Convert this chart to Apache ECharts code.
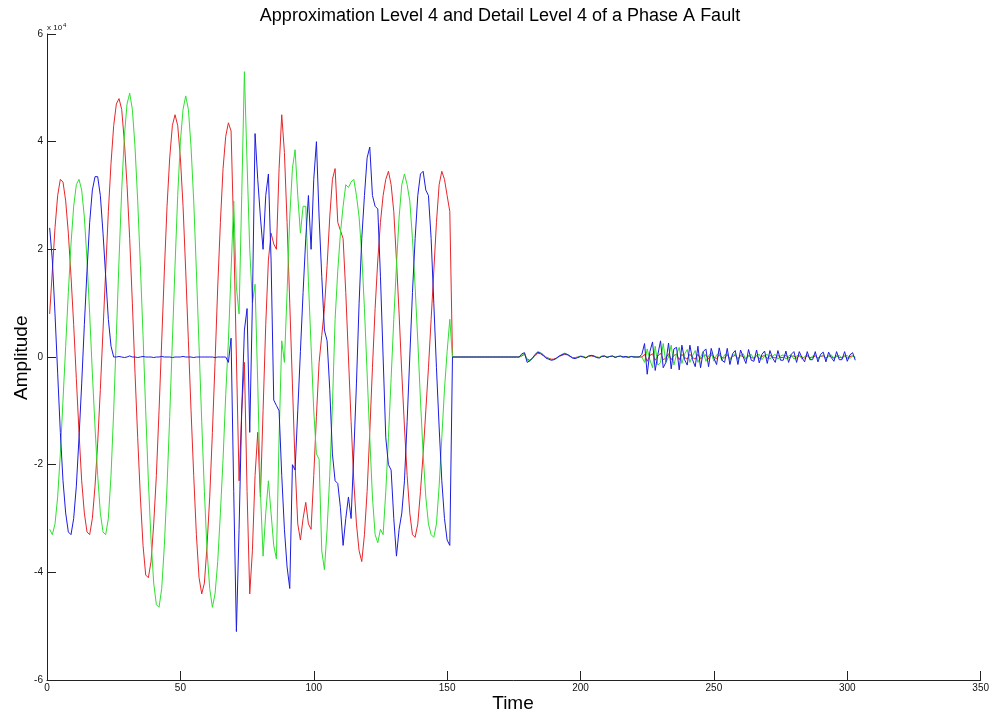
<!DOCTYPE html>
<html><head><meta charset="utf-8">
<script src="https://cdn.jsdelivr.net/npm/echarts@6/dist/echarts.min.js"></script>
<style>html,body{margin:0;padding:0;background:#fff}#c{width:992px;height:721px}</style>
</head><body><div id="c"></div>
<script>
// Amplitude values in units of 10^4, one sample per time step (time = 1..303)
const seriesNames = ['Phase A', 'Phase B', 'Phase C'];
const xTicks = [0, 50, 100, 150, 200, 250, 300, 350];
const yTicks = [-6, -4, -2, 0, 2, 4, 6];

const red = [
  0.8, 1.6, 2.4, 3.0, 3.3, 3.25, 2.9, 2.3, 1.5, 0.6,
  -0.4, -1.4, -2.3, -2.9, -3.25, -3.3, -3.0, -2.4, -1.6, -0.6,
  0.5, 1.6, 2.7, 3.6, 4.3, 4.7, 4.8, 4.6, 4.0, 3.2,
  2.2, 1.0, -0.3, -1.5, -2.6, -3.5, -4.05, -4.1, -3.8, -3.1,
  -2.2, -1.0, 0.3, 1.6, 2.8, 3.7, 4.3, 4.5, 4.3, 3.7,
  2.8, 1.6, 0.3, -1.0, -2.2, -3.3, -4.1, -4.4, -4.2, -3.5,
  -2.6, -1.4, -0.1, 1.3, 2.5, 3.5, 4.1, 4.35, 4.2, 2.3,
  0.0, -2.3, -1.0, -0.1, -2.5, -4.4, -3.6, -2.2, -1.4, -2.6,
  -1.0, 0.6, 1.8, 2.3, 2.1, 2.0, 3.5, 4.5, 3.8, 2.5,
  1.0, -0.5, -2.0, -3.1, -3.4, -3.0, -2.7, -3.1, -3.2, -2.2,
  -1.1, -0.1, 0.4, 0.9, 1.7, 2.6, 3.3, 3.5, 2.5, 2.35,
  2.2, 1.2, 0.0, -1.2, -2.3, -3.1, -3.6, -3.8, -3.3, -2.5,
  -1.4, -0.2, 0.9, 1.8, 2.5, 3.0, 3.3, 3.45, 3.2, 2.7,
  1.8, 0.8, -0.3, -1.3, -2.2, -2.9, -3.3, -3.35, -3.1, -2.5,
  -1.8, -1.0, -0.2, 0.7, 1.6, 2.5, 3.2, 3.45, 3.3, 3.0,
  2.7, 0.0, 0, 0, 0, 0, 0, 0, 0, 0,
  0, 0, 0, 0, 0, 0, 0, 0, 0, 0,
  0, 0, 0, 0, 0, 0, 0.0, 0.02, 0.05, -0.04,
  -0.06, -0.02, 0.03, 0.07, 0.06, 0.03, 0.0, -0.02, -0.04, -0.04,
  -0.02, 0.01, 0.03, 0.05, 0.04, 0.01, -0.01, -0.01, 0.0, 0.01,
  0.01, -0.01, 0.01, 0.02, 0.01, 0.0, -0.01, 0.01, 0.01, 0.0,
  0.01, 0.01, 0.0, 0.01, 0.01, 0.0, 0.0, 0.0, 0.01, 0.0,
  0.0, 0.0, 0.0, 0.05, -0.08, 0.03, 0.06, -0.06, 0.02, 0.07,
  -0.05, -0.02, 0.06, -0.05, 0.03, 0.05, -0.05, 0.05, -0.01, -0.04,
  0.05, -0.01, -0.04, 0.05, -0.04, 0.02, 0.04, -0.04, 0.04, 0.0,
  -0.03, 0.04, -0.01, -0.02, 0.04, -0.03, 0.01, 0.03, -0.03, 0.03,
  0.0, -0.03, 0.03, -0.01, -0.02, 0.03, -0.03, 0.01, 0.03, -0.03,
  0.03, 0.0, -0.02, 0.03, -0.01, -0.01, 0.03, -0.02, 0.01, 0.02,
  -0.02, 0.02, 0.0, -0.02, 0.02, -0.01, -0.01, 0.02, -0.02, 0.01,
  0.02, -0.02, 0.02, 0.0, -0.02, 0.02, -0.01, -0.01, 0.02, -0.02,
  0.01, 0.02, -0.01
];

const green = [
  -3.2, -3.3, -3.1, -2.6, -1.8, -0.8, 0.2, 1.2, 2.1, 2.8,
  3.2, 3.3, 3.1, 2.6, 1.8, 0.8, -0.3, -1.3, -2.2, -2.9,
  -3.25, -3.3, -3.0, -2.2, -1.0, 0.4, 1.8, 3.1, 4.1, 4.7,
  4.9, 4.6, 3.9, 2.9, 1.7, 0.4, -1.0, -2.3, -3.4, -4.2,
  -4.6, -4.65, -4.3, -3.5, -2.4, -1.1, 0.3, 1.7, 3.0, 4.0,
  4.6, 4.85, 4.6, 3.9, 2.9, 1.6, 0.2, -1.2, -2.5, -3.6,
  -4.3, -4.65, -4.4, -3.8, -2.9, -1.9, -0.7, 0.3, 1.6, 2.9,
  1.3, 0.8, 3.0, 5.3, 3.6, 2.0, 1.0, 1.35, -0.5, -2.5,
  -3.7, -2.9, -2.3, -2.9, -3.5, -3.75, -1.5, 0.3, -0.1, 1.2,
  2.6, 3.5, 3.85, 3.0, 2.3, 2.8, 2.8, 1.4, 0.2, -1.0,
  -1.8, -1.9, -3.6, -3.95, -3.2, -2.2, -0.9, 0.7, 1.6, 2.3,
  2.8, 3.2, 3.15, 3.25, 3.3, 3.0, 2.6, 1.9, 0.9, -0.3,
  -1.5, -2.6, -3.3, -3.45, -3.2, -3.3, -2.5, -1.5, -0.4, 0.7,
  1.7, 2.6, 3.2, 3.4, 3.2, 2.9, 2.2, 1.3, 0.3, -0.8,
  -1.8, -2.6, -3.1, -3.3, -3.35, -3.1, -2.4, -1.5, -0.6, 0.1,
  0.7, 0.0, 0, 0, 0, 0, 0, 0, 0, 0,
  0, 0, 0, 0, 0, 0, 0, 0, 0, 0,
  0, 0, 0, 0, 0, 0, 0.0, 0.03, 0.07, -0.06,
  -0.08, -0.03, 0.04, 0.1, 0.08, 0.05, 0.0, -0.03, -0.05, -0.05,
  -0.03, 0.01, 0.05, 0.07, 0.05, 0.02, -0.01, -0.02, 0.0, 0.02,
  0.01, -0.01, 0.01, 0.03, 0.02, 0.0, -0.01, 0.02, 0.02, 0.0,
  0.01, 0.02, 0.0, 0.01, 0.01, 0.0, 0.01, 0.0, 0.01, 0.01,
  0.0, 0.0, 0.0, -0.1, 0.15, -0.05, -0.2, 0.2, -0.15, -0.1,
  0.25, -0.1, 0.0, 0.22, -0.15, 0.05, 0.18, -0.12, 0.05, 0.14,
  -0.1, 0.02, 0.12, -0.1, 0.0, 0.1, -0.08, 0.02, 0.08, -0.08,
  0.04, 0.07, -0.07, 0.04, 0.06, -0.06, 0.03, 0.06, -0.05, 0.03,
  0.06, -0.05, 0.02, 0.05, -0.05, 0.03, 0.05, -0.05, 0.02, 0.05,
  -0.04, 0.02, 0.05, -0.04, 0.02, 0.04, -0.04, 0.02, 0.04, -0.04,
  0.02, 0.04, -0.04, 0.01, 0.04, -0.04, 0.02, 0.04, -0.03, 0.01,
  0.04, -0.03, 0.02, 0.04, -0.03, 0.01, 0.03, -0.03, 0.02, 0.03,
  -0.03, 0.02, 0.0
];

const blue = [
  2.4, 1.8, 0.8, -0.3, -1.4, -2.3, -2.9, -3.25, -3.3, -3.0,
  -2.4, -1.5, -0.5, 0.6, 1.6, 2.5, 3.1, 3.35, 3.35, 3.0,
  2.3, 1.5, 0.7, 0.2, 0.0, 0.0, 0.01, 0.0, -0.01, 0.0,
  0.02, 0.0, 0.0, -0.01, 0.0, 0.01, 0.0, 0.0, 0.0, -0.01,
  0.0, 0.0, 0.01, 0.0, 0.0, 0.0, -0.01, 0.0, 0.0, 0.0,
  0.01, 0.0, 0.0, 0.0, -0.01, 0.0, 0.0, 0.0, 0.0, 0.0,
  0.0, 0.0, -0.01, 0.0, 0.0, 0.0, 0.0, -0.1, 0.35, -2.5,
  -5.1, -3.2, -1.0, 0.5, 0.9, -1.4, 1.0, 4.15, 3.3, 2.6,
  2.0, 3.0, 3.4, 1.8, -0.8, -0.9, -1.0, -2.2, -3.2, -3.9,
  -4.3, -2.0, -2.1, -1.0, 0.1, 1.2, 2.2, 3.0, 2.0, 3.3,
  4.0, 2.6, 1.5, 0.5, 0.3, -0.6, -1.8, -2.3, -2.35, -2.8,
  -3.5, -3.0, -2.6, -3.0, -1.8, -0.5, 1.0, 2.2, 3.0, 3.7,
  3.9, 3.0, 2.8, 2.75, 1.5, 0.0, -1.5, -2.0, -2.1, -3.0,
  -3.7, -3.2, -2.9, -2.3, -1.2, 0.0, 1.2, 2.2, 3.0, 3.4,
  3.45, 3.1, 3.0, 2.2, 1.0, -0.2, -1.3, -2.3, -3.0, -3.4,
  -3.5, 0.0, 0, 0, 0, 0, 0, 0, 0, 0,
  0, 0, 0, 0, 0, 0, 0, 0, 0, 0,
  0, 0, 0, 0, 0, 0, 0.0, 0.06, 0.08, -0.1,
  -0.07, -0.02, 0.05, 0.09, 0.07, 0.03, -0.02, -0.04, -0.06, -0.05,
  -0.02, 0.02, 0.04, 0.06, 0.05, 0.02, -0.02, -0.03, -0.01, 0.01,
  0.0, -0.02, 0.02, 0.03, 0.02, -0.01, -0.02, 0.01, 0.02, -0.01,
  0.01, 0.02, -0.01, 0.01, 0.02, 0.0, 0.01, -0.01, 0.01, 0.0,
  0.0, 0.0, 0.05, 0.25, -0.32, 0.1, 0.28, -0.25, 0.05, 0.3,
  -0.2, -0.1, 0.26, -0.22, 0.15, 0.18, -0.24, 0.22, -0.05, -0.15,
  0.22, -0.05, -0.18, 0.2, -0.2, 0.1, 0.15, -0.18, 0.16, -0.02,
  -0.14, 0.17, -0.06, -0.1, 0.16, -0.14, 0.06, 0.12, -0.14, 0.13,
  0.0, -0.12, 0.14, -0.06, -0.08, 0.13, -0.11, 0.05, 0.11, -0.12,
  0.12, -0.02, -0.1, 0.12, -0.06, -0.06, 0.11, -0.1, 0.05, 0.1,
  -0.1, 0.1, -0.01, -0.09, 0.1, -0.05, -0.05, 0.1, -0.09, 0.05,
  0.09, -0.09, 0.09, -0.01, -0.08, 0.1, -0.05, -0.05, 0.1, -0.08,
  0.04, 0.08, -0.06
];

const toPairs = arr => arr.map((v, i) => [i + 1, v]);
const FONT = 'Liberation Sans, Arial, sans-serif';

const chart = echarts.init(document.getElementById('c'), null, { renderer: 'canvas' });
chart.setOption({
  animation: false,
  backgroundColor: '#ffffff',
  grid: { left: 47, right: 9, top: 34, bottom: 41, containLabel: false },
  xAxis: {
    type: 'value', min: xTicks[0], max: xTicks[xTicks.length - 1], interval: 50,
    axisLine: { show: true, onZero: false, lineStyle: { color: '#222', width: 1 } },
    axisTick: { show: true, inside: true, length: 9, lineStyle: { color: '#222' } },
    axisLabel: { color: '#111', fontSize: 10, margin: 3, fontFamily: FONT, showMinLabel: true, showMaxLabel: true },
    splitLine: { show: false }
  },
  yAxis: {
    type: 'value', min: yTicks[0], max: yTicks[yTicks.length - 1], interval: 2,
    axisLine: { show: true, onZero: false, lineStyle: { color: '#222', width: 1 } },
    axisTick: { show: true, inside: true, length: 9, lineStyle: { color: '#222' } },
    axisLabel: { color: '#111', fontSize: 10, margin: 4, fontFamily: FONT, showMinLabel: true, showMaxLabel: true },
    splitLine: { show: false }
  },
  series: [
    { name: seriesNames[0], type: 'line', data: toPairs(red), symbol: 'none', lineStyle: { color: '#e8262a', width: 1 }, itemStyle: { color: '#e8262a' } },
    { name: seriesNames[1], type: 'line', data: toPairs(green), symbol: 'none', lineStyle: { color: '#2fe02f', width: 1 }, itemStyle: { color: '#2fe02f' } },
    { name: seriesNames[2], type: 'line', data: toPairs(blue), symbol: 'none', lineStyle: { color: '#1c1ce0', width: 1 }, itemStyle: { color: '#1c1ce0' } }
  ],
  graphic: [
    { type: 'text', x: 500, y: 7, style: { text: 'Approximation Level 4 and Detail Level 4 of a Phase A Fault', font: '18px ' + FONT, fill: '#000', textAlign: 'center' } },
    { type: 'text', x: 513, y: 694, style: { text: 'Time', font: '19px ' + FONT, fill: '#000', textAlign: 'center' } },
    { type: 'text', x: 12, y: 400, rotation: Math.PI / 2, style: { text: 'Amplitude', font: '19px ' + FONT, fill: '#000' } },
    { type: 'text', left: 47, top: 22, style: { text: '{a|x 10}{s|4}', rich: { a: { fontSize: 8, fontFamily: FONT, fill: '#111' }, s: { fontSize: 6, fontFamily: FONT, fill: '#111', verticalAlign: 'top', padding: [0, 0, 5, 1] } } } }
  ]
});
</script>
</body></html>
